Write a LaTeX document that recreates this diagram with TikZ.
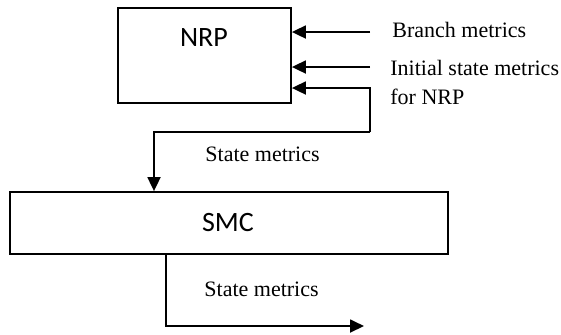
\documentclass[tikz,border=0pt]{standalone}
\usepackage{fontspec}
\setmainfont{Liberation Serif}
\newfontfamily\blockfont{Carlito}
\usetikzlibrary{arrows.meta}

\begin{document}
\begin{tikzpicture}[x=0.5pt,y=-0.5pt,
		block/.style={rectangle,draw,line width=0.9pt,inner sep=0pt},
		blocktext/.style={font=\blockfont\fontsize{14}{16}\selectfont,inner sep=0pt},
		sig/.style={line width=0.9pt,-{Triangle[length=7pt,width=6.5pt]}},
		lbl/.style={font=\fontsize{11}{13}\selectfont,inner sep=0pt,anchor=west}]
		\useasboundingbox (0,0) rectangle (561,334);
%		\draw[help lines,step=20] (0,0) grid (561,334);
		\path (370,32) coordinate (bm_in);
		\path (370,67) coordinate (ism_in);
		\path (370,88) coordinate (fb_top);
		\path (370,132) coordinate (fb_r);
		\path (154,132) coordinate (fb_l);
		\path (166,326) coordinate (out_bend);
		\path (364,326) coordinate (out_end);

		% the two blocks
		\node[block,minimum width=86.5pt,minimum height=47.5pt] (nrp) at (204.5,55.5) {};
		\node[blocktext] (nrp_name) at (204,38) {NRP};
		\node[block,minimum width=219pt,minimum height=31pt] (smc) at (229,223) {};
		\node[blocktext] (smc_name) at (228,222) {SMC};

		% inputs of NRP
		\draw[sig] (bm_in) -- (bm_in -| nrp.east);
		\node[lbl] (bm_lbl) at (392,30) {Branch metrics};
		\draw[sig] (ism_in) -- (ism_in -| nrp.east);
		\node[lbl] (ism_lbl) at (390,68) {Initial state metrics};
		\node[lbl] (ism_lbl2) at (390,97) {for NRP};

		% state metrics loop between NRP and SMC
		\draw[sig] (fb_r) -- (fb_top) -- (fb_top -| nrp.east);
		\draw[sig] (fb_r) -- (fb_l) -- (fb_l |- smc.north);
		\node[lbl] (sm_lbl) at (205,154) {State metrics};

		% output of SMC
		\draw[sig] (smc.south -| out_bend) -- (out_bend) -- (out_end);
		\node[lbl] (out_lbl) at (204,289) {State metrics};
\end{tikzpicture}
\end{document}
